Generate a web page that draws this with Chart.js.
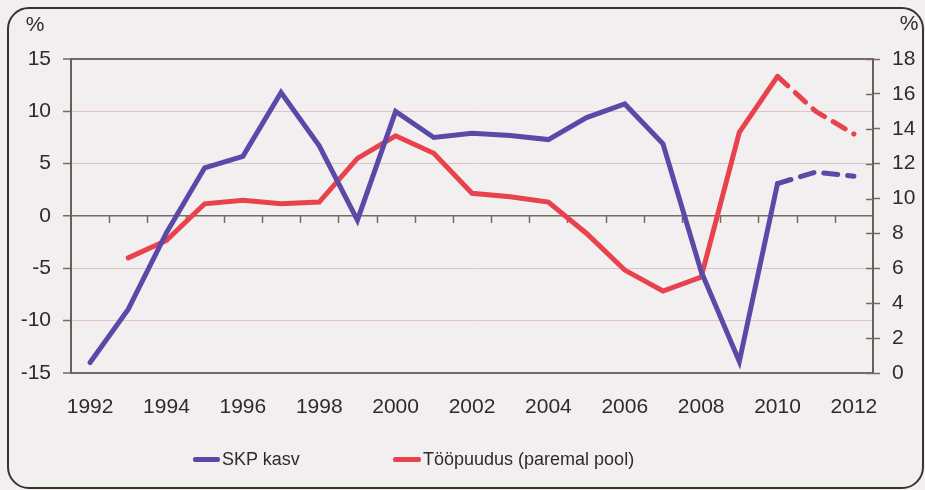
<!DOCTYPE html>
<html>
<head>
<meta charset="utf-8">
<script src="https://cdn.jsdelivr.net/npm/chart.js@4/dist/chart.umd.min.js"></script>
<style>
  html, body { margin:0; padding:0; background:#f1efef; }
  body { width:925px; height:490px; position:relative; overflow:hidden; font-family:"Liberation Sans", Arial, sans-serif; }
  #frame { position:absolute; left:7px; top:7px; width:917px; height:482px; box-sizing:border-box;
           border:2px solid #3e302c; border-radius:22px; }
  #c { position:absolute; left:0; top:0; }
  .leg { position:absolute; display:flex; align-items:center; height:22px; font-size:18px; color:#33282a; white-space:nowrap; }
  .leg .ln { display:inline-block; height:5px; border-radius:2px; margin-right:2px; }
</style>
</head>
<body>
<div id="frame"></div>
<canvas id="c" width="925" height="490"></canvas>
<div class="leg" style="left:193px; top:448px;"><span class="ln" style="width:27px; background:#5b49a8;"></span><span>SKP kasv</span></div>
<div class="leg" style="left:393px; top:448px;"><span class="ln" style="width:28px; background:#e8434d;"></span><span>Tööpuudus (paremal pool)</span></div>
<script>
// ---- data ----
const years = ["1992","1993","1994","1995","1996","1997","1998","1999","2000","2001","2002",
               "2003","2004","2005","2006","2007","2008","2009","2010","2011","2012"];
const gdpGrowth = [-14.0, -8.9, -1.6, 4.6, 5.7, 11.8, 6.7, -0.4, 10.0, 7.5, 7.9,
                   7.7, 7.3, 9.4, 10.7, 6.9, -5.3, -13.9, 3.1, 4.2, 3.8];
const unemployment = [null, 6.6, 7.6, 9.7, 9.9, 9.7, 9.8, 12.3, 13.6, 12.6, 10.3,
                      10.1, 9.8, 8.0, 5.9, 4.7, 5.5, 13.8, 17.0, 15.0, 13.7];
const seriesNames = ["SKP kasv", "Tööpuudus (paremal pool)"];
const forecastFrom = "2010";
const leftTicks = [-15, -10, -5, 0, 5, 10, 15];
const rightTicks = [0, 2, 4, 6, 8, 10, 12, 14, 16, 18];
const unitLabel = "%";

const TEXT = '#33282a';
const FRAME = '#7a6862';
const fontFam = '"Liberation Sans", Arial, sans-serif';
const forecastIdx = years.indexOf(forecastFrom);
const dashSeg = { borderDash: ctx => ctx.p0DataIndex >= forecastIdx ? [14, 10] : undefined };

const extras = {
  id: 'extras',
  beforeDatasetsDraw(chart) {
    const ctx = chart.ctx, x = chart.scales.x, yL = chart.scales.yL, yR = chart.scales.yR;
    ctx.save();
    ctx.strokeStyle = FRAME; ctx.lineWidth = 1.5;
    const y0 = yL.getPixelForValue(0);
    const step = x.getPixelForValue(1) - x.getPixelForValue(0);
    for (let i = 1; i < years.length; i++) {
      const px = Math.round(x.getPixelForValue(i) - step / 2) + 0.5;
      ctx.beginPath(); ctx.moveTo(px, y0); ctx.lineTo(px, y0 + 7); ctx.stroke();
    }
    rightTicks.forEach(v => {
      const py = Math.round(yR.getPixelForValue(v)) + 0.5;
      ctx.beginPath(); ctx.moveTo(yR.left - 7, py); ctx.lineTo(yR.left, py); ctx.stroke();
    });
    ctx.restore();
  },
  afterDraw(chart) {
    const ctx = chart.ctx;
    ctx.save();
    ctx.fillStyle = TEXT;
    ctx.font = '21px ' + fontFam;
    ctx.textBaseline = 'middle';
    ctx.textAlign = 'center';
    ctx.fillText(unitLabel, 35, 25);
    ctx.fillText(unitLabel, 909, 24);
    ctx.restore();
  }
};

new Chart(document.getElementById('c'), {
  type: 'line',
  data: {
    labels: years,
    datasets: [
      { label: seriesNames[0], data: gdpGrowth, yAxisID: 'yL', borderColor: '#5b49a8', backgroundColor: '#5b49a8',
        borderWidth: 5, pointRadius: 0, tension: 0, borderCapStyle: 'round', segment: dashSeg },
      { label: seriesNames[1], data: unemployment, yAxisID: 'yR', borderColor: '#e8434d', backgroundColor: '#e8434d',
        borderWidth: 5, pointRadius: 0, tension: 0, borderCapStyle: 'round', segment: dashSeg }
    ]
  },
  options: {
    responsive: false,
    animation: false,
    layout: { padding: { left: 0, right: 0, top: 59, bottom: 0 } },
    plugins: { legend: { display: false }, tooltip: { enabled: false } },
    scales: {
      x: {
        offset: true,
        grid: { display: false, drawTicks: false },
        border: { display: false },
        ticks: {
          autoSkip: false, maxRotation: 0, minRotation: 0, padding: 22,
          color: TEXT, font: { size: 21, family: fontFam },
          callback: (v, i) => i % 2 === 0 ? years[i] : ''
        },
        afterFit: s => { s.height = 117; }
      },
      yL: {
        position: 'left', min: -15, max: 15,
        afterBuildTicks: s => { s.ticks = leftTicks.map(v => ({ value: v })); },
        grid: {
          color: c => (Math.abs(c.tick.value) === 15 || c.tick.value === 0) ? FRAME : '#e0c4c4',
          lineWidth: c => Math.abs(c.tick.value) === 15 ? 2 : (c.tick.value === 0 ? 1.5 : 1),
          tickColor: FRAME, tickLength: 8, tickWidth: 1.5
        },
        border: { display: true, color: '#6e5c56', width: 2 },
        ticks: { color: TEXT, padding: 12, font: { size: 21, family: fontFam } },
        afterFit: s => { s.width = 71; }
      },
      yR: {
        position: 'right', min: 0, max: 18,
        afterBuildTicks: s => { s.ticks = rightTicks.map(v => ({ value: v })); },
        grid: { drawOnChartArea: false, tickColor: FRAME, tickLength: 7, tickWidth: 1.5 },
        border: { display: true, color: '#6e5c56', width: 2 },
        ticks: { color: TEXT, padding: 12, font: { size: 21, family: fontFam } },
        afterFit: s => { s.width = 52; }
      }
    }
  },
  plugins: [extras]
});
</script>
</body>
</html>
